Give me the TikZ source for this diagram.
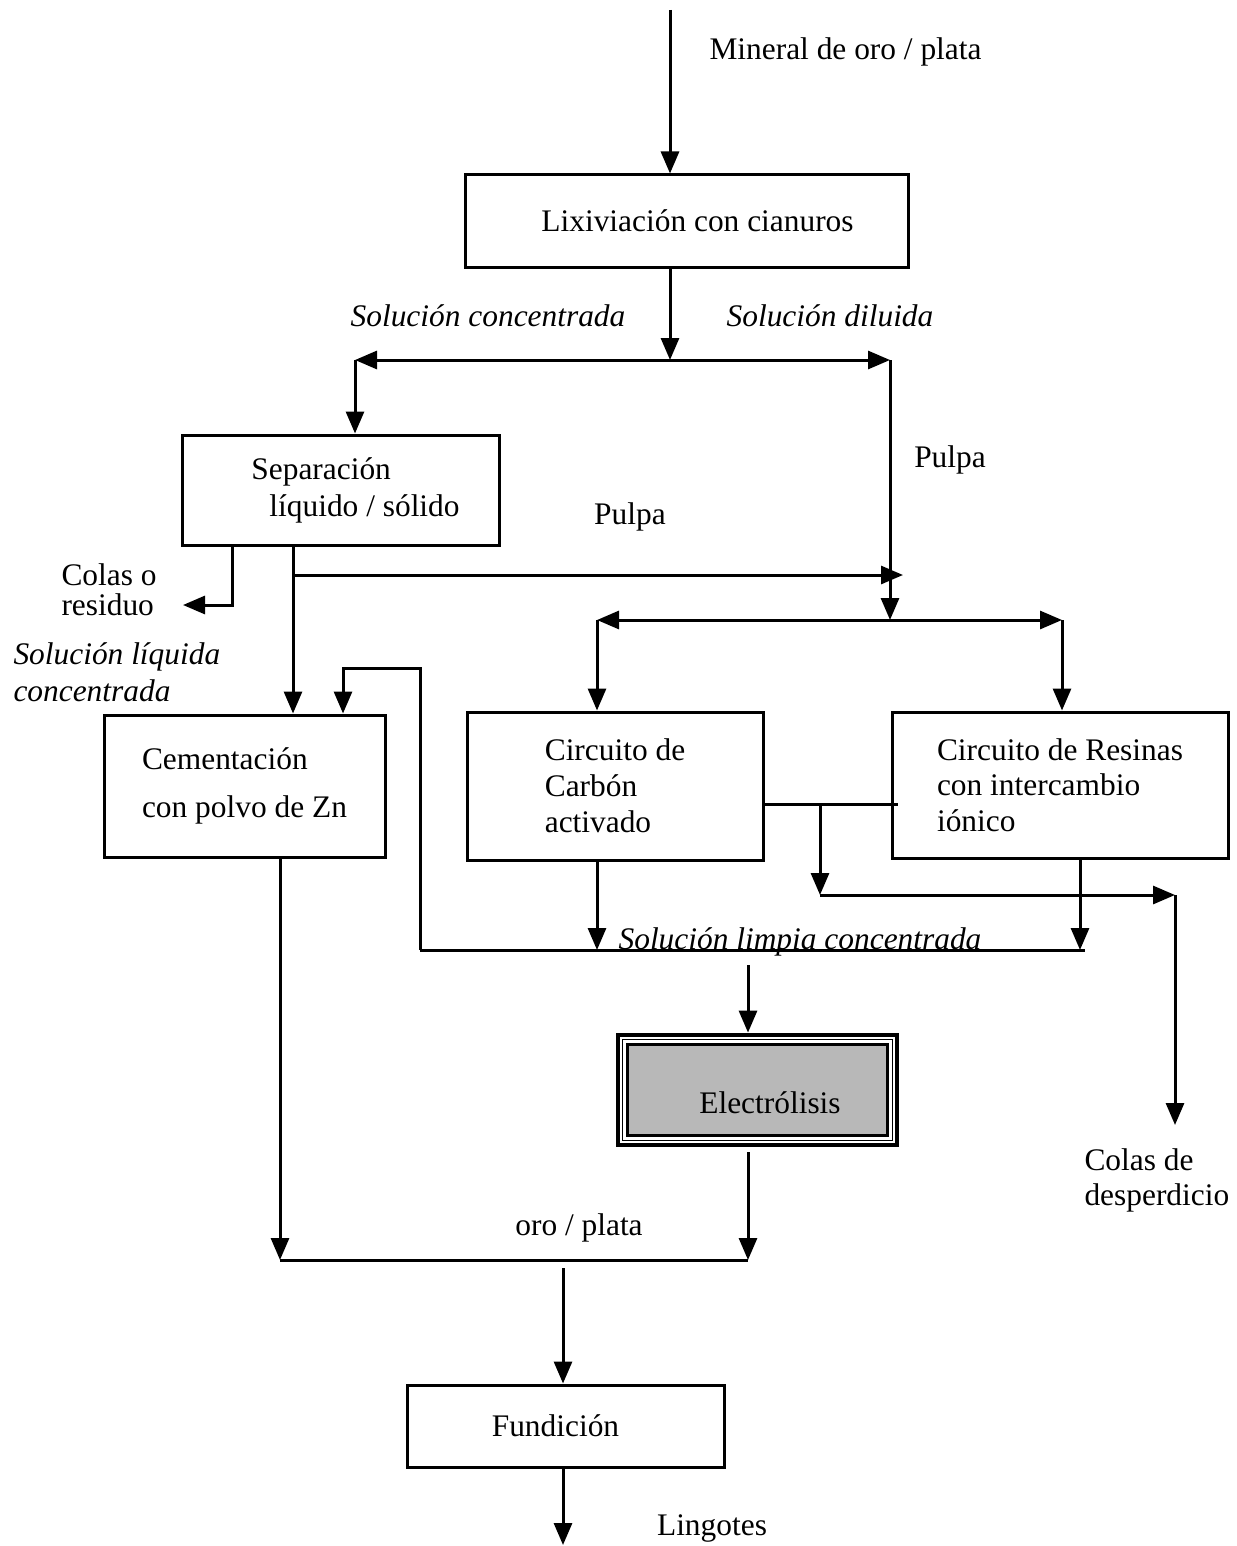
\documentclass[tikz,border=0pt]{standalone}
\usepackage{fontspec}
\setmainfont{Liberation Serif}
\usetikzlibrary{arrows.meta,calc}
\begin{document}
\begin{tikzpicture}[x=0.5pt,y=-0.5pt, line width=1.5pt,
 >={Triangle[length=11pt,width=9pt]},
 box/.style={draw, line width=1.5pt, inner sep=0pt, font=\fontsize{15.7}{18}\selectfont},
 lbl/.style={inner sep=0pt, font=\fontsize{15.7}{18}\selectfont},
 ilbl/.style={inner sep=0pt, font=\fontsize{15.7}{18.5}\selectfont\itshape}]
\useasboundingbox (0,0) rectangle (1236,1546);

% boxes
\node[box, minimum width=221.5pt, minimum height=46pt] (lix) at (686.5,221) {\hspace{11pt}Lixiviación con cianuros};
\node[box, minimum width=158.5pt, minimum height=55pt, align=left, font=\fontsize{15.7}{18.5}\selectfont] (sep) at (340.5,490) {\hspace{15pt}Separación\\\hspace{24pt}líquido / sólido};
\node[box, minimum width=140.5pt, minimum height=71pt, align=left, font=\fontsize{15.7}{24}\selectfont] (cem) at (244.5,786) {Cementación\\con polvo de Zn};
\node[box, minimum width=148pt, minimum height=74pt, align=left] (carb) at (615,786) {Circuito de\\Carbón\\activado};
\node[box, minimum width=168pt, minimum height=73pt, align=left, font=\fontsize{15.7}{17.75}\selectfont] (res) at (1060,785) {Circuito de Resinas\\con intercambio\\iónico};
\node[draw, line width=2.4pt, inner sep=0pt, minimum width=139.5pt, minimum height=55pt] (elec) at (757.5,1090) {};
\draw[line width=0.8pt] ($(elec.north west)+(7,7)$) rectangle ($(elec.south east)+(-7,-7)$);
\draw[line width=1.6pt, fill=black!28] ($(elec.north west)+(12,12)$) rectangle ($(elec.south east)+(-12,-12)$);
\node[lbl] (electxt) at (770,1103) {Electrólisis};
\node[box, minimum width=158.5pt, minimum height=41pt] (fund) at (565.5,1426) {Fundición\kern10pt\null};

% labels
\node[lbl, anchor=west] (mineral) at (708,52) {Mineral de oro / plata};
\node[ilbl] (solconc) at (488,316) {Solución concentrada};
\node[ilbl] (soldil) at (830,316) {Solución diluida};
\node[lbl] (pulpa1) at (950,460) {Pulpa};
\node[lbl] (pulpa2) at (630,517) {Pulpa};
\node[lbl, align=left, anchor=west, font=\fontsize{15.7}{15}\selectfont] (colas1) at (60,590) {Colas o\\residuo};
\node[ilbl, align=left, anchor=west] (solliq) at (12,672) {Solución líquida\\concentrada};
\node[lbl, align=left, anchor=west, font=\fontsize{15.7}{17.5}\selectfont] (colas2) at (1083,1180) {Colas de\\desperdicio};
\node[ilbl, anchor=base] (sollim) at (800,949) {Solución limpia concentrada};
\node[lbl] (oroplata) at (579,1228) {oro / plata};
\node[lbl] (lingotes) at (712,1528) {Lingotes};

% coordinates
\coordinate (top) at (670,10);
\coordinate (j1) at (670,360);
\coordinate (jl) at (355,360);
\coordinate (jr) at (890,360);
\coordinate (j2) at (890,620);
\coordinate (jl2) at (597,620);
\coordinate (jr2) at (1062,620);
\coordinate (s1) at (293,575);
\coordinate (pr) at (903,575);
\coordinate (c1) at (232,605);
\coordinate (cend) at (183,605);
\coordinate (r1) at (420,950);
\coordinate (r2) at (420,668);
\coordinate (r3) at (343,668);
\coordinate (le) at (1085,950);
\coordinate (cb) at (597,950);
\coordinate (rb) at (1080,950);
\coordinate (k1) at (820,804);
\coordinate (k2) at (898,804);
\coordinate (k3) at (820,895);
\coordinate (k4) at (1175,895);
\coordinate (k5) at (1175,1125);
\coordinate (e1) at (748,965);
\coordinate (g1) at (280,1260);
\coordinate (g2) at (748,1260);
\coordinate (f1) at (563,1268);
\coordinate (f2) at (563,1545);

% connectors
\draw[->] (top) -- (top |- lix.north);
\draw[->] (j1 |- lix.south) -- (j1);
\draw[->] (j1) -- (jl);
\draw[->] (j1) -- (jr);
\draw[->] (jl) -- (jl |- sep.north);
\draw[->] (jr) -- (j2);
\draw[->] (j2) -- (jl2);
\draw[->] (j2) -- (jr2);
\draw[->] (jl2) -- (jl2 |- carb.north);
\draw[->] (jr2) -- (jr2 |- res.north);
\draw[->] (sep.south -| c1) -- (c1) -- (cend);
\draw[->] (sep.south -| s1) -- (s1 |- cem.north);
\draw[->] (s1) -- (pr);
\draw[->] (r1) -- (r2) -- (r3) -- (r3 |- cem.north);
\draw (r1) -- (le);
\draw[->] (carb.south -| cb) -- (cb);
\draw[->] (res.south -| rb) -- (rb);
\draw (carb.east |- k1) -- (k2);
\draw[->] (k1) -- (k3);
\draw[->] (k3) -- (k4);
\draw[->] (k4) -- (k5);
\draw[->] (e1) -- (e1 |- elec.north);
\draw[->] (cem.south -| g1) -- (g1);
\draw[->] ($(elec.south -| g2)+(0,5)$) -- (g2);
\draw (g1) -- (g2);
\draw[->] (f1) -- (f1 |- fund.north);
\draw[->] (fund.south -| f2) -- (f2);
\end{tikzpicture}
\end{document}
